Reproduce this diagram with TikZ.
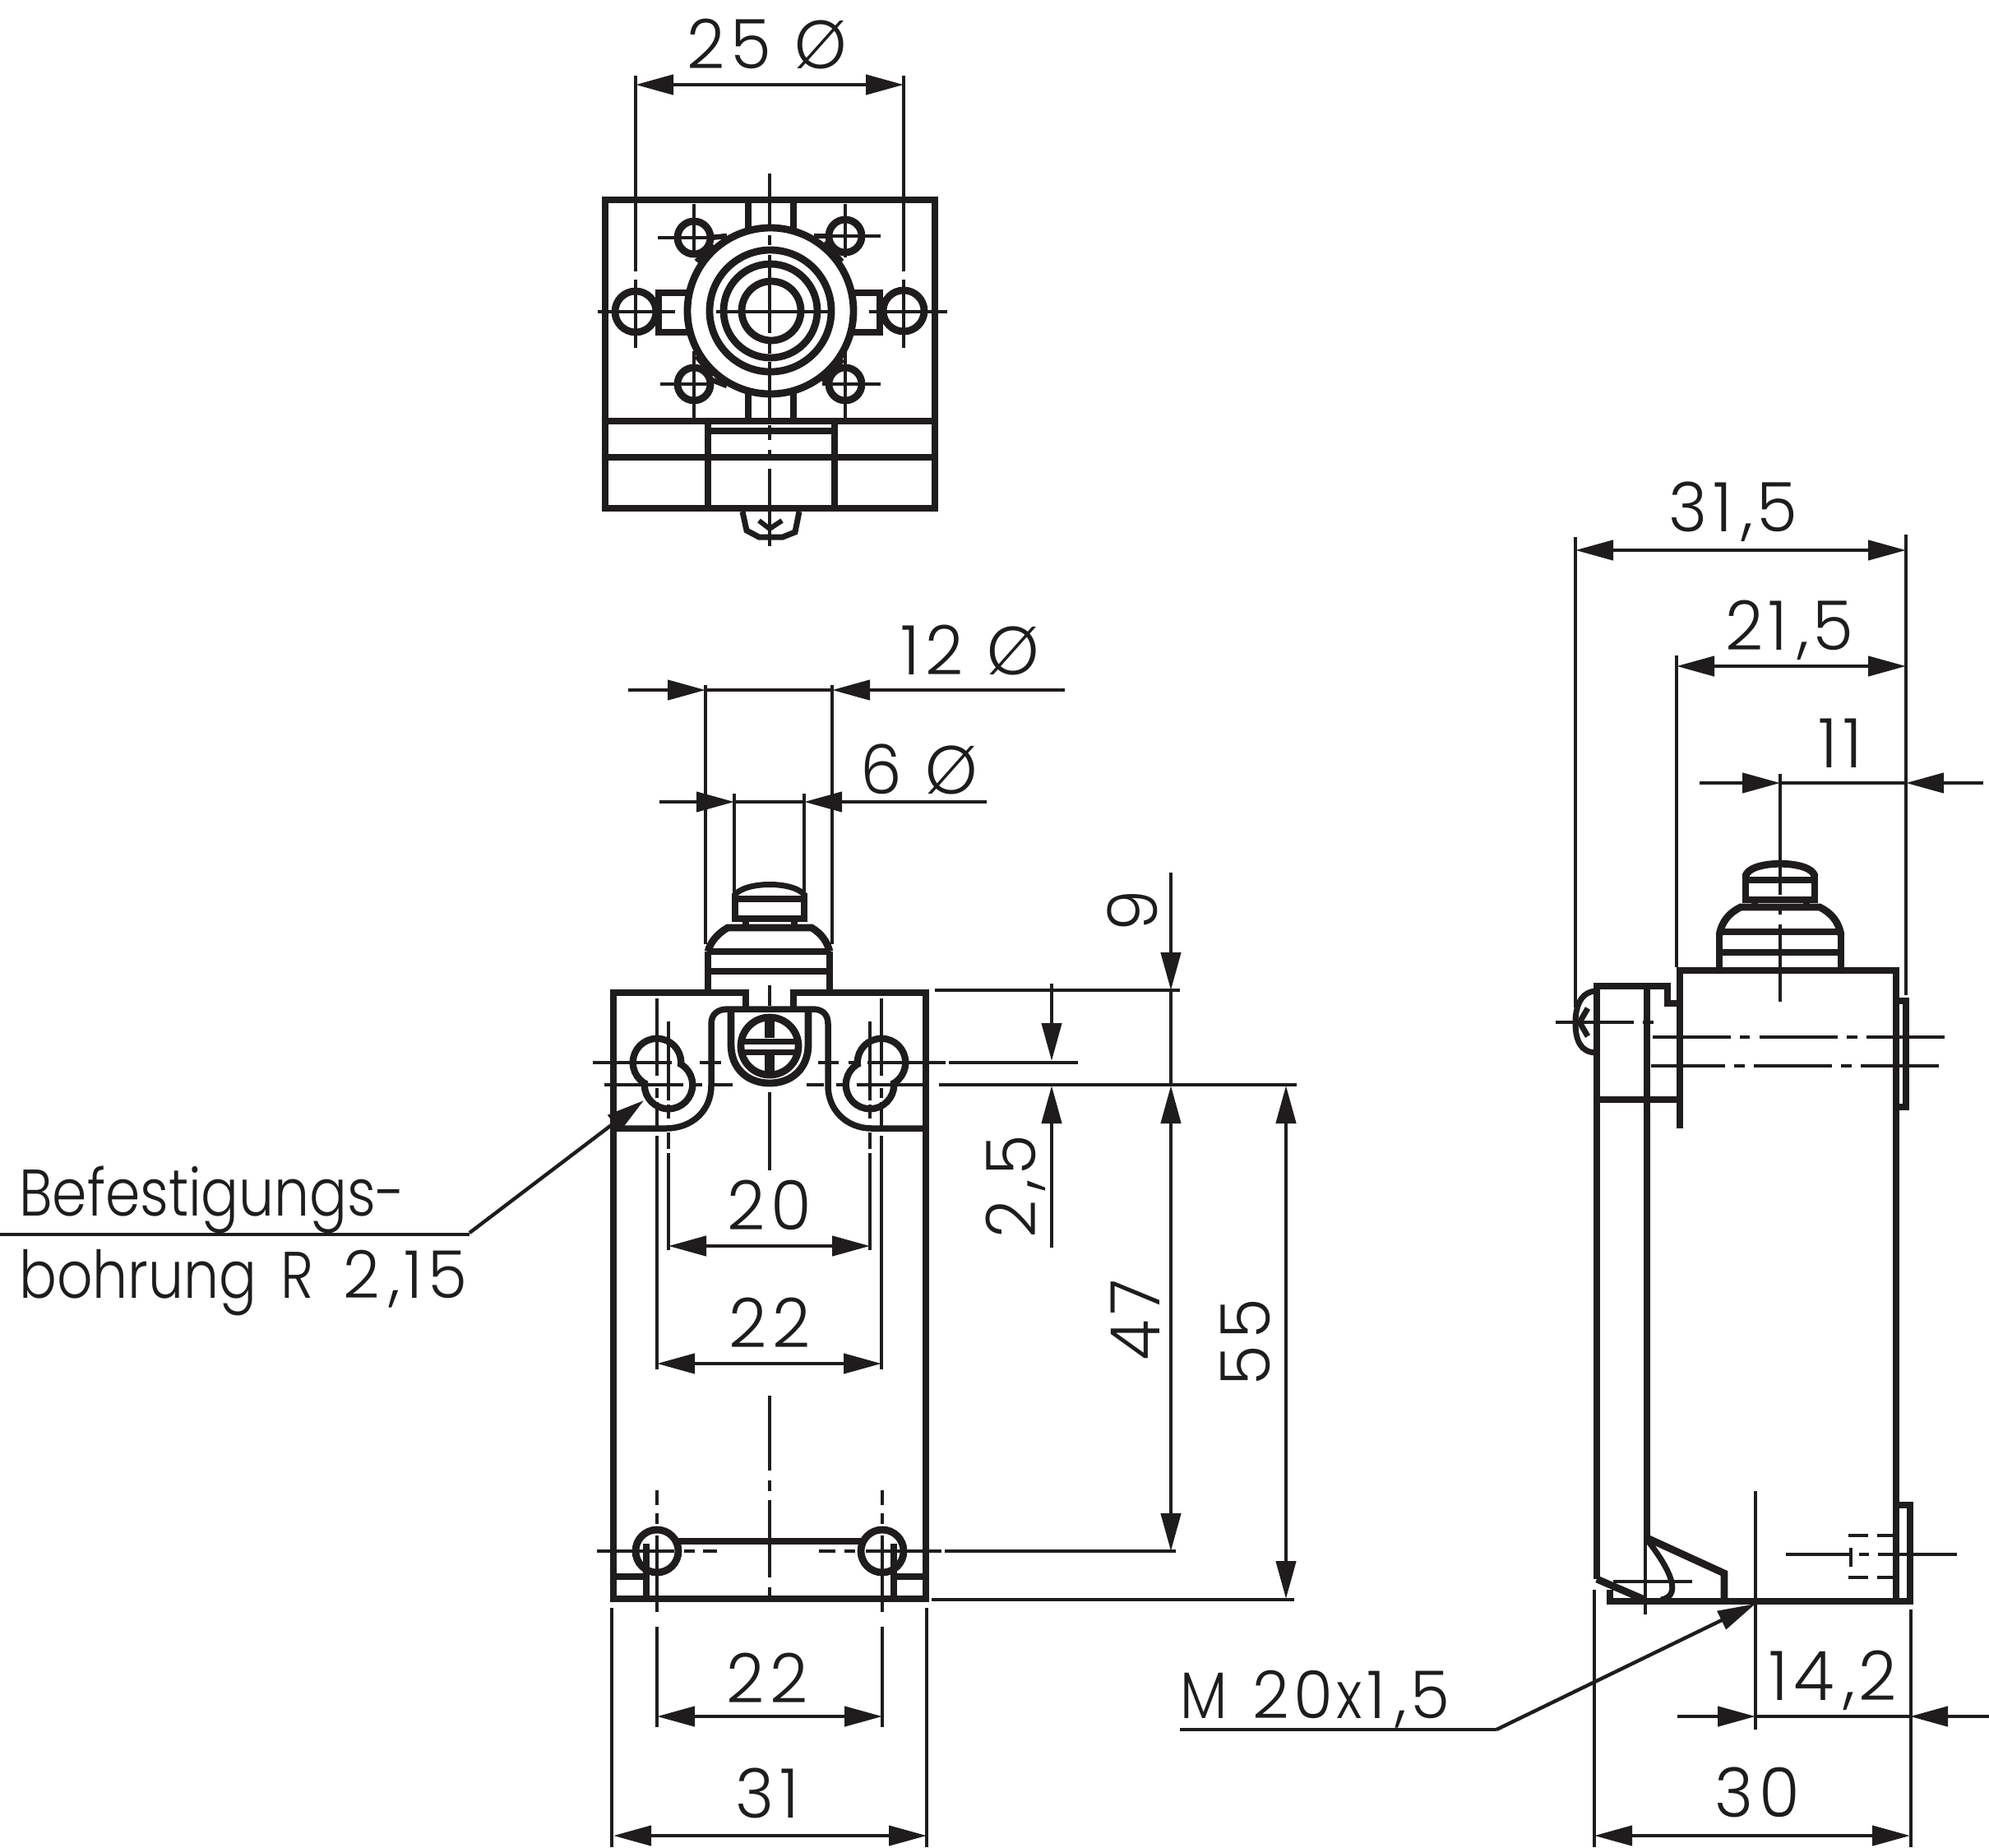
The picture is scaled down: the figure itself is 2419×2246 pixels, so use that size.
\documentclass[tikz,border=0pt]{standalone}
\usepackage{fontspec}
\setmainfont{Poppins}[UprightFont=* Light]
\newfontfamily\dignum{Poppins}[UprightFont=* Light,FakeStretch=0.97,LetterSpace=8]
\newfontfamily\letfont{Poppins}[UprightFont=* Light,FakeStretch=0.85]
\usetikzlibrary{arrows.meta}
\definecolor{ink}{HTML}{1F1C1D}
\newcommand{\cmm}{\kern12pt,\kern4pt}
\tikzset{
  x=1pt,y=-1pt,
  objl/.style={draw=ink,line width=8.8pt,line cap=butt,line join=miter},
  cen/.style={draw=ink,line width=4.4pt},
  dimn/.style={draw=ink,line width=4.4pt},
  tipa/.tip={Triangle[length=46pt,width=24pt]},
  dima/.style={dimn,{tipa}-{tipa}},
  dimb/.style={dimn,-{tipa}},
  lbl/.style={font=\fontsize{83}{90}\selectfont\dignum,text=ink,inner sep=0pt,text height=58pt,text depth=0pt},
  txt/.style={font=\fontsize{80}{90}\selectfont\letfont,text=ink,inner sep=0pt,anchor=base west},
}
\newcommand{\vsegs}[2]{\foreach \pa/\pb in {#2}{\draw[cen] (#1,\pa) -- (#1,\pb);}}
\newcommand{\hsegs}[2]{\foreach \pa/\pb in {#2}{\draw[cen] (\pa,#1) -- (\pb,#1);}}
\newcommand{\keyhole}[4]{%
  \draw[objl] (#1,#2) circle[radius=29];
  \draw[objl] (#3,#4) circle[radius=29];
  \fill[white] (#1,#2) circle[radius=25];
  \fill[white] (#3,#4) circle[radius=25];
}
\begin{document}
\begin{tikzpicture}
\useasboundingbox (0,0) rectangle (2419,2246);
\fill[white] (0,0) rectangle (2419,2246);

% ---------- TOP VIEW ----------
\draw[objl] (736,243) rectangle (1137,618);
\draw[objl] (736,512) -- (1137,512);
\draw[objl] (736,556) -- (1137,556);
\draw[objl] (861,512) -- (861,618);
\draw[objl] (1015,512) -- (1015,618);
\draw[objl] (861,524) -- (1015,524);
\draw[objl] (910,243) -- (910,280);
\draw[objl] (965,243) -- (965,280);
\draw[objl] (910,478) -- (910,512);
\draw[objl] (965,478) -- (965,512);
\draw[objl] (840,356) -- (801,356) -- (801,404) -- (840,404);
\draw[objl] (1036,356) -- (1070,356) -- (1070,404) -- (1036,404);
% fillets between small holes and hub
\draw[objl,line width=6.5pt] (847,318) -- (867,297);
\draw[objl,line width=6.5pt] (864,289) -- (884,287);
\draw[objl,line width=6.5pt] (1024,318) -- (1002,295);
\draw[objl,line width=6.5pt] (990,287) -- (1006,287);
\draw[objl,line width=6.5pt] (847,433) -- (867,457);
\draw[objl,line width=6.5pt] (866,462) -- (884,469);
\draw[objl,line width=6.5pt] (1025,437) -- (1000,464);
% circles
\draw[objl,fill=white] (937,378) circle[radius=101];
\draw[objl] (937,378) circle[radius=74];
\draw[objl] (937,378) circle[radius=57];
\draw[objl] (938,378) circle[radius=36];
\foreach \cx/\cy in {844/289,1028/287,844/467,1028/467}{
  \draw[objl,fill=white] (\cx,\cy) circle[radius=20];
}
\draw[objl,fill=white] (773,379) circle[radius=25];
\draw[objl,fill=white] (1099,378) circle[radius=25];
% centre lines
\vsegs{936}{211/278,286/298,310/405,417/430,440/510,517/535,547/553,570/664}
\hsegs{379}{727/821,871/1010,1057/1152}
\vsegs{773}{92/330,340/423}
\vsegs{1099}{92/330,340/423}
\vsegs{844}{248/313,427/508}
\vsegs{1028}{248/313,427/508}
\hsegs{289}{800/867}
\hsegs{287}{990/1071}
\hsegs{467}{803/867,1000/1071}
% lug
\draw[objl,line width=7pt] (903,622) -- (908,645) -- (923,653) -- (952,653) -- (967,647) -- (972,622);
\draw[objl,line width=6pt] (923,633) -- (936,643) -- (951,633);
% dim 25
\draw[dima] (773,103) -- (1099,103);
\node[lbl] (t25) at (933,54) {25 Ø};

% ---------- FRONT VIEW ----------
% body
\draw[objl] (907,1227) -- (907,1207) -- (746,1207) -- (746,1944) -- (1126,1944) -- (1126,1207) -- (965,1207) -- (965,1227);
% knob
\draw[objl] (861,1207) -- (861,1157);
\draw[objl] (1009,1207) -- (1009,1157);
\draw[objl] (861,1157) -- (1009,1157);
\draw[objl] (861,1181) -- (1009,1181);
\draw[objl] (861,1157) .. controls (864,1145) and (873,1135) .. (885,1128) -- (987,1128) .. controls (999,1135) and (1006,1145) .. (1009,1157);
\draw[objl] (894,1086) -- (894,1117) -- (978,1117) -- (978,1086);
\draw[objl] (894,1093) -- (978,1093);
\draw[objl,line width=7pt] (893,1089) .. controls (905,1071) and (967,1071) .. (979,1089);
\draw[objl] (907,1117) -- (907,1128);
\draw[objl] (966,1117) -- (966,1128);
% clamp shape
\draw[objl,line width=7.5pt] (746,1372) -- (810,1372) .. controls (842,1372) and (865,1350) .. (865,1320) -- (865,1245) .. controls (865,1233) and (873,1227) .. (885,1227) -- (988,1227) .. controls (1000,1227) and (1007,1233) .. (1007,1245) -- (1007,1320) .. controls (1007,1350) and (1030,1372) .. (1060,1372) -- (1126,1372);
\draw[objl] (889,1227) -- (889,1270) .. controls (889,1300) and (910,1317) .. (936,1317) .. controls (962,1317) and (983,1300) .. (983,1270) -- (983,1227);
% screw
\draw[objl,fill=white] (936,1272) circle[radius=35];
\draw[draw=ink,line width=7pt] (905,1266) -- (967,1266);
\draw[draw=ink,line width=7pt] (905,1279) -- (967,1279);
\fill[ink] (930,1240) rectangle (942,1262);
\fill[ink] (930,1283) rectangle (942,1303);
% key holes
\keyhole{799}{1292}{813}{1319}
\keyhole{1072}{1292}{1058}{1319}
\hsegs{1292}{721/817,851/877,995/1020,1032/1045,1055/1150,1154/1311}
\hsegs{1319}{735/831,845/854,868/891,981/1002,1017/1030,1042/1127,1142/1577}
\vsegs{799}{1214/1308,1323/1335,1340/1375,1381/1665}
\vsegs{1072}{1214/1308,1323/1335,1340/1375,1381/1665}
\vsegs{813}{1242/1338,1343/1360,1377/1397,1402/1520}
\vsegs{1058}{1242/1338,1343/1360,1377/1397,1402/1520}
\vsegs{936}{1198/1223,1328/1423,1697/1788,1800/1813,1824/1918,1930/1944}
% bottom holes
\draw[objl] (825,1874) -- (1047,1874);
\draw[objl,fill=white] (799,1886) circle[radius=26];
\draw[objl,fill=white] (1073,1886) circle[radius=26];
\draw[objl] (746,1917) -- (786,1917) -- (786,1944);
\draw[objl] (786,1917) -- (786,1877);
\draw[objl] (1126,1917) -- (1087,1917) -- (1087,1944);
\draw[objl] (1087,1917) -- (1087,1877);
\vsegs{799}{1812/1830,1840/1853,1867/1960,1978/2100}
\vsegs{1073}{1812/1830,1840/1853,1867/1960,1978/2100}
\hsegs{1886}{726/820,832/845,855/872,996/1016,1027/1040,1053/1145,1149/1430}
% extension lines
\draw[cen] (1137,1204) -- (1435,1204);
\draw[cen] (1133,1945) -- (1574,1945);
\vsegs{858}{833/1148}
\vsegs{1012}{833/1148}
\vsegs{893}{965/1085}
\vsegs{978}{965/1085}
\vsegs{744}{1955/2246}
\vsegs{1127}{1955/2246}
% dims
\draw[dimb] (764,839) -- (858,839);
\draw[dimb] (1295,839) -- (1012,839);
\draw[dimn] (858,839) -- (1012,839);
\node[lbl] (t12) at (1180,791) {12 Ø};
\draw[dimb] (802,975) -- (893,975);
\draw[dimb] (1200,975) -- (978,975);
\draw[dimn] (893,975) -- (978,975);
\node[lbl] (t6) at (1118,936) {6 Ø};
\draw[dima] (813,1515) -- (1058,1515);
\node[lbl] (t20) at (936,1466) {20};
\draw[dima] (799,1658) -- (1072,1658);
\node[lbl] (t22a) at (936,1609) {22};
\draw[dima] (799,2087) -- (1073,2087);
\node[lbl] (t22b) at (933,2041) {22};
\draw[dima] (746,2232) -- (1127,2232);
\node[lbl] (t31) at (933,2181) {31};
\draw[dimb] (1424,1061) -- (1424,1204);
\draw[dima] (1424,1320) -- (1424,1886);
\draw[dimn] (1424,1204) -- (1424,1320);
\node[lbl,rotate=90] (t9) at (1378,1107) {9};
\node[lbl,rotate=90] (t47) at (1381,1605) {47};
\draw[dima] (1564,1320) -- (1564,1944);
\node[lbl,rotate=90] (t55) at (1515,1632) {55};
\draw[dimb] (1279,1196) -- (1279,1290);
\draw[dimb] (1279,1517) -- (1279,1320);
\node[lbl,rotate=90] (t25b) at (1230,1443) {2\cmm 5};
% leader
\draw[dimn,-{tipa}] (571,1499) -- (783,1338);
\draw[dimn] (0,1501) -- (571,1501);
\node[txt] (tbef) at (23,1478) {Befestigungs-};
\node[txt] (tboh) at (23,1578) {bohrung\kern10pt{} R\kern18pt{} {\dignum 2\cmm 15}};

% ---------- SIDE VIEW ----------
\draw[objl] (2043,1372) -- (2043,1180) -- (2306,1180) -- (2306,1947);
\draw[objl] (2091,1180) -- (2091,1135);
\draw[objl] (2239,1180) -- (2239,1135);
\draw[objl] (2091,1133) -- (2239,1133);
\draw[objl] (2091,1158) -- (2239,1158);
\draw[objl] (2091,1137) .. controls (2094,1120) and (2103,1110) .. (2117,1103) -- (2213,1103) .. controls (2227,1110) and (2236,1120) .. (2239,1137);
\draw[objl] (2123,1062) -- (2123,1094) -- (2207,1094) -- (2207,1062);
\draw[objl] (2123,1070) -- (2207,1070);
\draw[objl] (2123,1066) .. controls (2125,1045) and (2205,1045) .. (2207,1066);
\draw[objl] (2134,1094) -- (2134,1103);
\draw[objl] (2197,1094) -- (2197,1103);
% cover
\draw[objl] (1942,1920) -- (1942,1199) -- (2028,1199) -- (2028,1220) -- (2043,1220);
\draw[objl] (2003,1199) -- (2003,1872);
\draw[objl] (1942,1337) -- (2043,1337);
\draw[objl,line width=7pt] (1942,1205) .. controls (1922,1205) and (1916,1225) .. (1916,1243) .. controls (1916,1265) and (1922,1280) .. (1942,1280);
\draw[objl,line width=7pt] (1931,1226) -- (1921,1243) -- (1931,1260);
% right plate
\draw[objl] (2306,1217) -- (2318,1217) -- (2318,1346) -- (2306,1346);
% bottom
\draw[objl] (1958,1933) -- (1958,1947) -- (2323,1947) -- (2323,1830) -- (2305,1830);
\draw[objl] (1942,1920) -- (2000,1945);
\draw[objl] (2003,1870) -- (2097,1913) -- (2097,1945);
\draw[objl,line width=7pt] (2003,1872) .. controls (2025,1900) and (2050,1940) .. (2020,1945);
% centres
\hsegs{1243}{1892/1987,1998/2011}
\hsegs{1261}{2010/2105,2116/2128,2140/2235,2246/2259,2270/2365}
\hsegs{1296}{2008/2098,2109/2122,2133/2228,2239/2252,2263/2358}
\vsegs{2165}{941/1088,1100/1112,1124/1218}
\hsegs{1923}{1962/2058}
\vsegs{2001}{1870/1963}
\hsegs{1867}{2248/2272,2283/2302}
\hsegs{1918}{2248/2272,2283/2302}
\vsegs{2251}{1882/1905}
\hsegs{1890}{2172/2250,2261/2273,2284/2380}
\vsegs{2135}{1813/2103}
% extension
\vsegs{2039}{797/1176}
\vsegs{2318}{650/1210}
\vsegs{1916}{653/1225}
\vsegs{1939}{1933/2246}
\vsegs{2324}{1957/2246}
% dims
\draw[dima] (1916,669) -- (2318,669);
\node[lbl] (t315) at (2108,617) {31\cmm 5};
\draw[dima] (2039,810) -- (2318,810);
\node[lbl] (t215) at (2176,761) {21\cmm 5};
\draw[dimb] (2067,952) -- (2165,952);
\draw[dimb] (2412,952) -- (2318,952);
\draw[dimn] (2165,952) -- (2318,952);
\node[lbl] (t11) at (2238,904) {11};
\draw[dimb] (2040,2087) -- (2135,2087);
\draw[dimb] (2419,2087) -- (2323,2087);
\draw[dimn] (2135,2087) -- (2323,2087);
\node[lbl] (t142) at (2229,2038) {14\cmm 2};
\draw[dima] (1939,2232) -- (2323,2232);
\node[lbl] (t30) at (2137,2180) {30};
\draw[dimn,-{tipa}] (1820,2103) -- (2135,1950);
\draw[dimn] (1435,2103) -- (1820,2103);
\node[txt] (tm20) at (1435,2089) {M\kern12pt{} {\dignum 20}\kern4pt x\kern6pt{\dignum 1\cmm 5}};
\end{tikzpicture}
\end{document}
